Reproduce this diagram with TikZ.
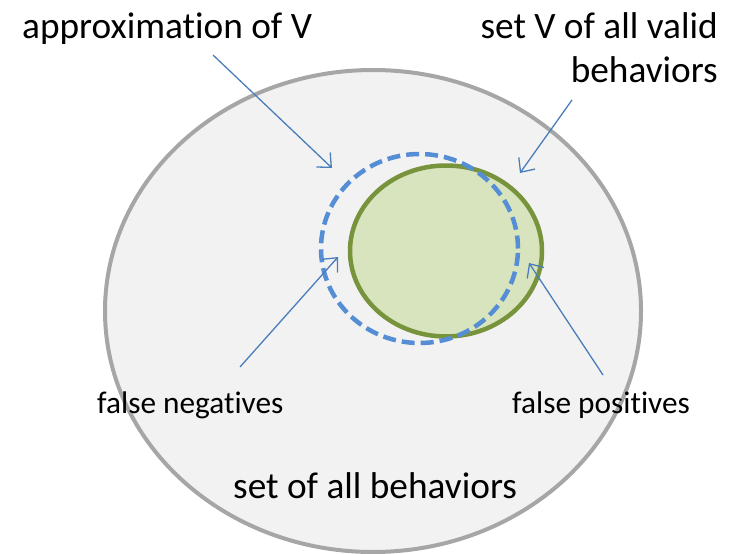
\documentclass[tikz,border=0pt]{standalone}
\usepackage{fontspec}
\setmainfont{Carlito}[Ligatures=NoCommon]
\usetikzlibrary{shapes.geometric,arrows.meta}
\definecolor{allfill}{HTML}{F2F2F2}
\definecolor{allline}{HTML}{A6A6A6}
\definecolor{validfill}{HTML}{D7E4BD}
\definecolor{validline}{HTML}{77933C}
\definecolor{approxline}{HTML}{558ED5}
\definecolor{pointer}{HTML}{4A7EBB}
\begin{document}
\begin{tikzpicture}[x=1pt,y=-1pt,
  region/.style={ellipse,inner sep=0pt},
  pointer/.style={draw=pointer,line width=1.3pt,-{Straight Barb[length=11pt,width=20pt,line width=1.3pt]}},
  bigtext/.style={font=\fontsize{37.3}{44}\selectfont,inner sep=0pt},
  smalltext/.style={font=\fontsize{31.3}{36}\selectfont,inner sep=0pt}]
\useasboundingbox (0,0) rectangle (731,554);
% the set of all behaviors
\node[region,draw=allline,fill=allfill,line width=4pt,minimum width=536pt,minimum height=482pt] (all) at (373,311) {};
% the set V of valid behaviors
\node[region,draw=validline,fill=validfill,line width=4.5pt,minimum width=192pt,minimum height=171pt] (valid) at (446,251) {};
% the approximation of V
\node[region,draw=approxline,line width=4.5pt,dash pattern=on 13pt off 6pt,minimum width=197pt,minimum height=189pt] (approx) at (419.5,248.5) {};
% labels
\node[bigtext,anchor=base west] (lapprox) at (22,38) {approximation of V};
\node[bigtext,anchor=base east] (lvalid1) at (718,38) {set V of all valid};
\node[bigtext,anchor=base east] (lvalid2) at (718,82) {behaviors};
\node[smalltext,anchor=base west] (lneg) at (97,413) {false negatives};
\node[smalltext,anchor=base west] (lpos) at (512,413) {false positives};
\node[bigtext,anchor=base west] (lall) at (233,498) {set of all behaviors};
% pointer ends
\coordinate (pa0) at (213,55);  \coordinate (pa1) at (332,168);
\coordinate (pv0) at (572,100); \coordinate (pv1) at (520,173);
\coordinate (pn0) at (240,367); \coordinate (pn1) at (338,257);
\coordinate (pp0) at (603,375); \coordinate (pp1) at (529,263);
\draw[pointer] (pa0) -- (pa1);
\draw[pointer] (pv0) -- (pv1);
\draw[pointer] (pn0) -- (pn1);
\draw[pointer] (pp0) -- (pp1);
\end{tikzpicture}
\end{document}
